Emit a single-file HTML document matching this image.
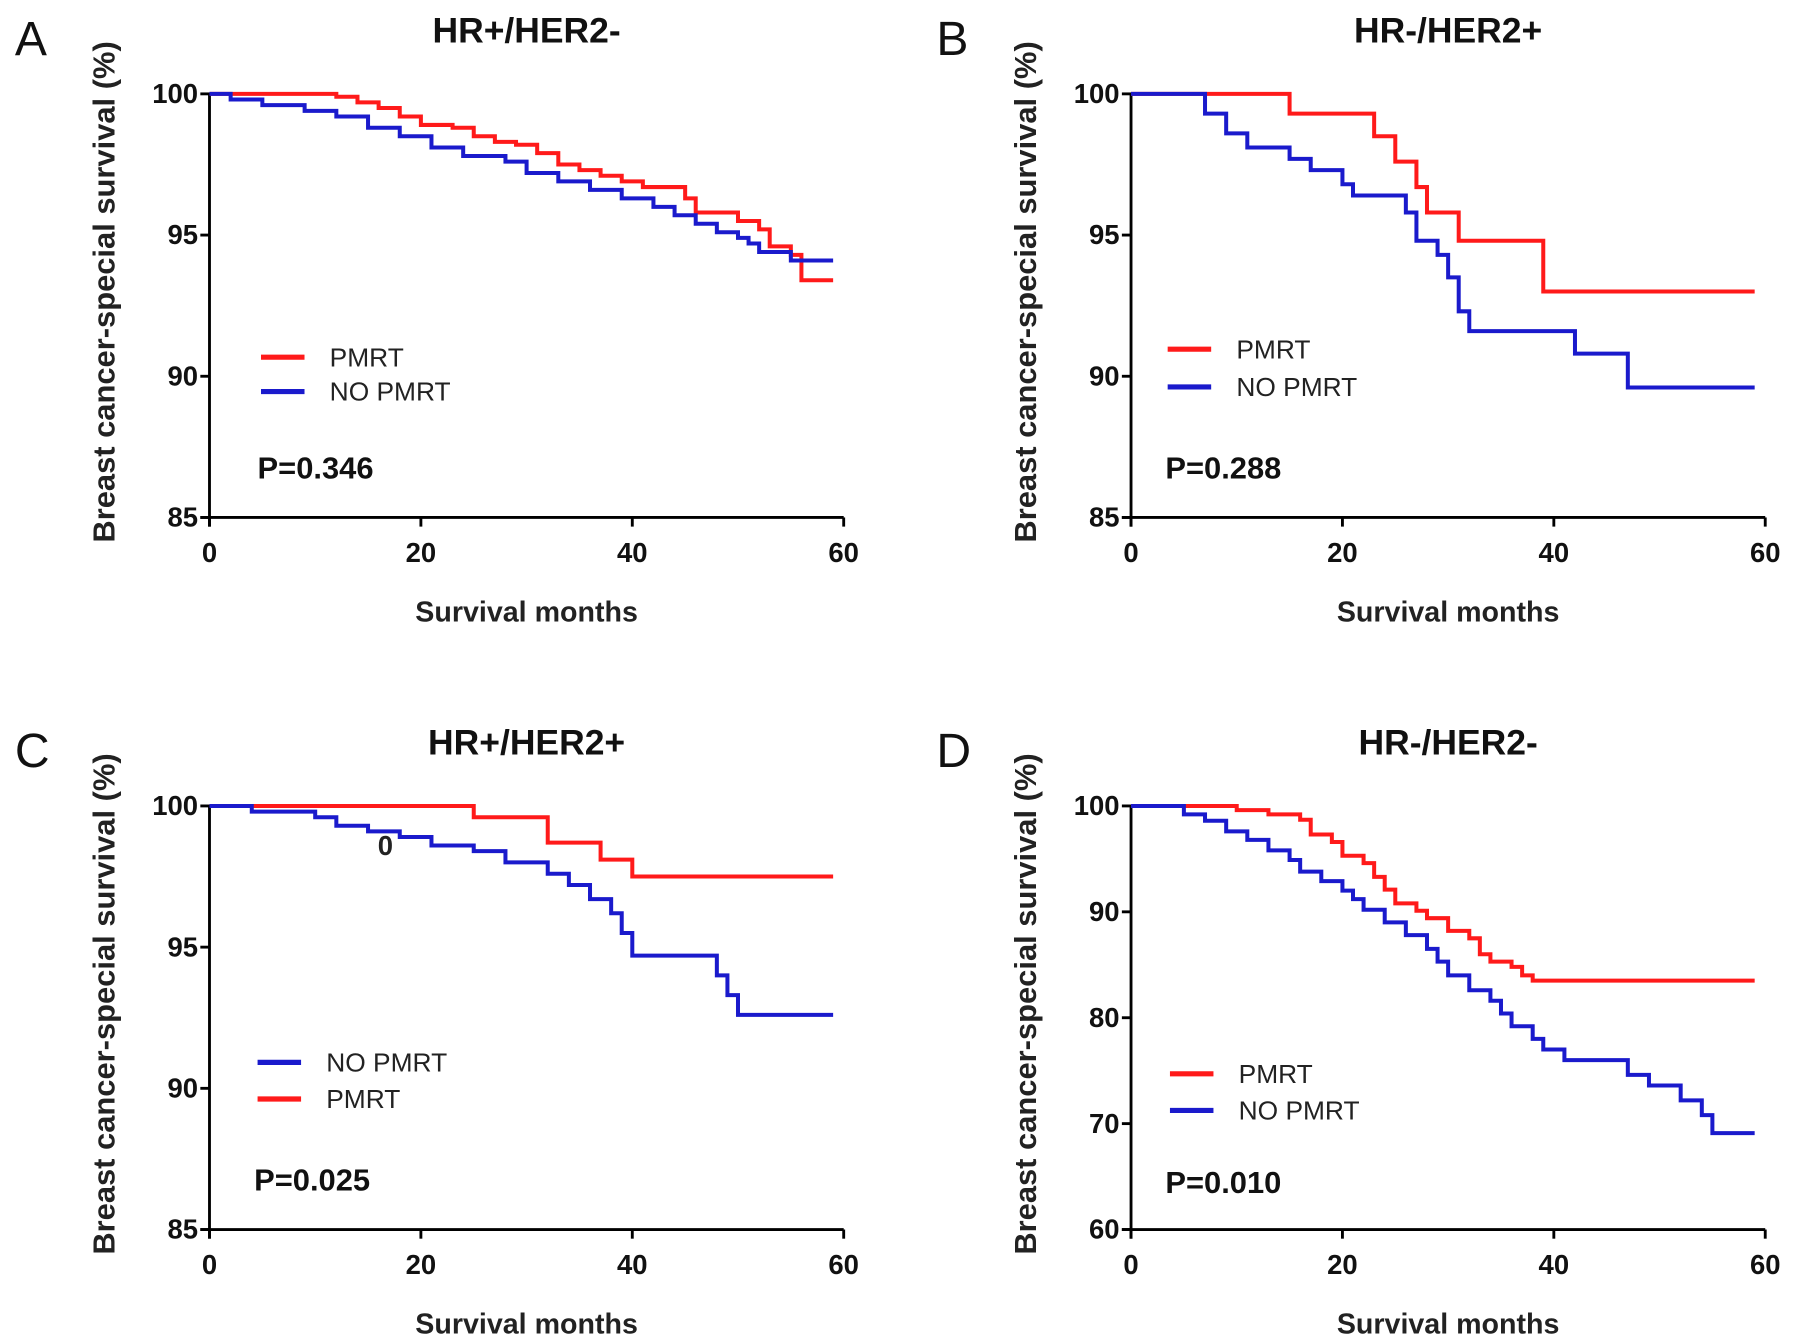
<!DOCTYPE html>
<html><head><meta charset="utf-8"><style>
html,body{margin:0;padding:0;background:#fff;}
svg{display:block;font-family:"Liberation Sans",Arial,sans-serif;}
</style></head><body>
<svg id="fig" width="1795" height="1344" viewBox="0 0 1568 1174" preserveAspectRatio="none"></svg>
<script>
const aPmrtX=[0,8,12,14,16,18,20,23,25,27,29,31,33,35,37,39,41,45,46,50,52,53,55,56,59];
const aPmrtY=[100,100,99.9,99.7,99.5,99.2,98.9,98.8,98.5,98.3,98.2,97.9,97.5,97.3,97.1,96.9,96.7,96.3,95.8,95.5,95.2,94.6,94.3,93.4,93.4];
const aNoX=[0,2,5,9,12,15,18,21,24,28,30,33,36,39,42,44,46,48,50,51,52,55,59];
const aNoY=[100,99.8,99.6,99.4,99.2,98.8,98.5,98.1,97.8,97.6,97.2,96.9,96.6,96.3,96.0,95.7,95.4,95.1,94.9,94.7,94.4,94.1,94.1];
const bPmrtX=[0,15,23,25,27,28,31,39,59];
const bPmrtY=[100,99.3,98.5,97.6,96.7,95.8,94.8,93.0,93.0];
const bNoX=[0,7,9,11,15,17,20,21,26,27,29,30,31,32,42,47,59];
const bNoY=[100,99.3,98.6,98.1,97.7,97.3,96.8,96.4,95.8,94.8,94.3,93.5,92.3,91.6,90.8,89.6,89.6];
const cPmrtX=[0,25,32,37,40,59];
const cPmrtY=[100,99.6,98.7,98.1,97.5,97.5];
const cNoX=[0,4,10,12,15,18,21,25,28,32,34,36,38,39,40,48,49,50,59];
const cNoY=[100,99.8,99.6,99.3,99.1,98.9,98.6,98.4,98.0,97.6,97.2,96.7,96.2,95.5,94.7,94.0,93.3,92.6,92.6];
const dPmrtX=[0,8,10,13,16,17,19,20,22,23,24,25,27,28,30,32,33,34,36,37,38,59];
const dPmrtY=[100,100,99.6,99.2,98.7,97.3,96.6,95.3,94.6,93.3,92.1,90.8,90.1,89.4,88.2,87.5,86.0,85.3,84.8,84.0,83.5,83.5];
const dNoX=[0,4,5,7,9,11,13,15,16,18,20,21,22,24,26,28,29,30,32,34,35,36,38,39,41,47,49,52,54,55,59];
const dNoY=[100,100,99.2,98.6,97.6,96.8,95.8,94.9,93.8,92.9,92.0,91.2,90.2,89.0,87.8,86.5,85.3,84.0,82.6,81.6,80.4,79.2,78.0,77.0,76.0,74.6,73.6,72.2,70.8,69.1,69.1];
const xTicks=[0,20,40,60];
const yTicksA=[85,90,95,100];
const yTicksD=[60,70,80,90,100];

const NS="http://www.w3.org/2000/svg";
const svg=document.getElementById('fig');
function el(tag,attrs,parent){const e=document.createElementNS(NS,tag);for(const k in attrs)e.setAttribute(k,attrs[k]);(parent||svg).appendChild(e);return e;}
function txt(s,attrs,parent){const e=el('text',attrs,parent);e.textContent=s;return e;}

function panel(o){
  const g=el('g',{});
  
  
  const x0=o.x0,x1=o.x0+554,yTop=o.yTop,yBot=o.yTop+370;
  const sx=v=>x0+(v/60)*(x1-x0);
  const sy=v=>yBot-(v-o.ymin)/(o.ymax-o.ymin)*(yBot-yTop);
  const L=txt(o.id,{x:o.x0-170,y:o.yTop-34,'font-size':42,fill:'#111'},g);
  
  const T=txt(o.title,{x:o.x0+277,y:o.yTop-45,'font-size':31,'font-weight':'bold','text-anchor':'middle',fill:'#111'},g);
  
  const ya=el('line',{x1:x0,y1:yTop,x2:x0,y2:yBot+8,stroke:'#000','stroke-width':2.5},g);
  
  const xa=el('line',{x1:x0-8,y1:yBot,x2:x1,y2:yBot,stroke:'#000','stroke-width':2.5},g);
  
  o.yt.forEach(v=>{
    el('line',{x1:x0-8,y1:sy(v),x2:x0,y2:sy(v),stroke:'#000','stroke-width':2.5},g);
    const t=txt(String(v),{x:x0-10,y:sy(v)+8,'font-size':24,'font-weight':'bold','text-anchor':'end',fill:'#111'},g);
    
  });
  xTicks.forEach(v=>{
    el('line',{x1:sx(v),y1:yBot,x2:sx(v),y2:yBot+8,stroke:'#000','stroke-width':2.5},g);
    const t=txt(String(v),{x:sx(v),y:yBot+39,'font-size':24,'font-weight':'bold','text-anchor':'middle',fill:'#111'},g);
    
  });
  const xl=txt('Survival months',{x:x0+277,y:yBot+91,'font-size':25,'font-weight':'bold','text-anchor':'middle',fill:'#222'},g);
  
  const cy=(yTop+yBot)/2-12;
  const yl=txt('Breast cancer-special survival (%)',{x:0,y:0,'font-size':27,'font-weight':'bold','text-anchor':'middle',fill:'#222',transform:`translate(${x0-83},${cy}) rotate(-90)`},g);
  
  o.series.forEach(s=>{
    let d='M'+sx(s.x[0])+','+sy(s.y[0]);
    for(let i=1;i<s.x.length;i++){d+=' H'+sx(s.x[i])+' V'+sy(s.y[i]);}
    const p=el('path',{d:d,fill:'none',stroke:s.c,'stroke-width':3.5},g);
    
  });
  o.legend.forEach(l=>{
    const ln=el('line',{x1:o.x0+l.dx,y1:l.y,x2:o.x0+l.dx+38,y2:l.y,stroke:l.c,'stroke-width':4.5},g);
    
    const t=txt(l.t,{x:o.x0+l.dx+60,y:l.y+8,'font-size':23,fill:'#222'},g);
    
  });
  const p=txt(o.p,{x:o.x0+o.pdx,y:o.py,'font-size':27,'font-weight':'bold',fill:'#111'},g);
  
}
const R='#ff1a1a',B='#1a1acc';
panel({id:'A',title:'HR+/HER2-',x0:183,yTop:82,ymin:85,ymax:100,yt:yTicksA,
  series:[{x:aPmrtX,y:aPmrtY,c:R,name:'pmrt'},{x:aNoX,y:aNoY,c:B,name:'no-pmrt'}],
  legend:[{t:'PMRT',y:312,c:R,dx:45},{t:'NO PMRT',y:342,c:B,dx:45}],p:'P=0.346',pdx:42,py:418});
panel({id:'B',title:'HR-/HER2+',x0:988,yTop:82,ymin:85,ymax:100,yt:yTicksA,
  series:[{x:bPmrtX,y:bPmrtY,c:R,name:'pmrt'},{x:bNoX,y:bNoY,c:B,name:'no-pmrt'}],
  legend:[{t:'PMRT',y:305,c:R,dx:32},{t:'NO PMRT',y:338,c:B,dx:32}],p:'P=0.288',pdx:30,py:418});
panel({id:'C',title:'HR+/HER2+',x0:183,yTop:704,ymin:85,ymax:100,yt:yTicksA,
  series:[{x:cPmrtX,y:cPmrtY,c:R,name:'pmrt'},{x:cNoX,y:cNoY,c:B,name:'no-pmrt'}],
  legend:[{t:'NO PMRT',y:928,c:B,dx:42},{t:'PMRT',y:960,c:R,dx:42}],p:'P=0.025',pdx:39,py:1040});
panel({id:'D',title:'HR-/HER2-',x0:988,yTop:704,ymin:60,ymax:100,yt:yTicksD,
  series:[{x:dPmrtX,y:dPmrtY,c:R,name:'pmrt'},{x:dNoX,y:dNoY,c:B,name:'no-pmrt'}],
  legend:[{t:'PMRT',y:938,c:R,dx:34},{t:'NO PMRT',y:970,c:B,dx:34}],p:'P=0.010',pdx:30,py:1042});
const z=txt('0',{x:330,y:747,'font-size':24,'font-weight':'bold',fill:'#222'});


</script>
</body></html>
